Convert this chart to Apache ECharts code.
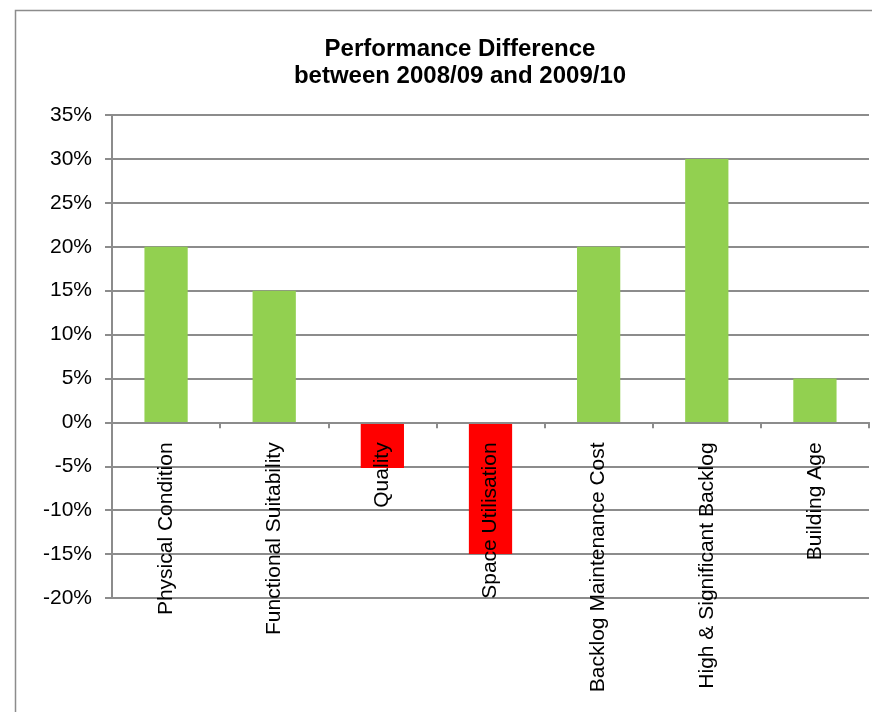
<!DOCTYPE html>
<html>
<head>
<meta charset="utf-8">
<title>Performance Difference</title>
<script src="https://cdn.jsdelivr.net/npm/echarts@6/dist/echarts.min.js"></script>
<style>
  html, body { margin: 0; padding: 0; background: #fff; }
  #main { width: 872px; height: 712px; }
</style>
</head>
<body>
<div id="main"></div>
<script>
// data (percent)
var categories = [
  "Physical Condition",
  "Functional Suitability",
  "Quality",
  "Space Utilisation",
  "Backlog Maintenance Cost",
  "High & Significant Backlog",
  "Building Age"
];
var values = [20, 15, -5.2, -15, 20, 30, 5];
var yTicks = { min: -20, max: 35, step: 5 };

(function () {
  var myChart = echarts.init(document.getElementById("main"));
  var font = "Liberation Sans, Arial, sans-serif";
  var gridGray = "#8c8c8c";
  var gridTop = 115, gridBottom = 114;
  var plotH = 712 - gridTop - gridBottom;
  // category axis sits on the zero line: shift it up from the grid bottom
  var zeroOffset = -plotH * (0 - yTicks.min) / (yTicks.max - yTicks.min);

  var option = {
    animation: false,
    backgroundColor: "#fff",
    // outer chart border
    graphic: [
      {
        type: "rect",
        shape: { x: 15.5, y: 10.5, width: 900, height: 800 },
        style: { fill: "none", stroke: "#8c8c8c", lineWidth: 1.5 },
        z: -10
      }
    ],
    title: {
      text: "Performance Difference\nbetween 2008/09 and 2009/10",
      left: 455,
      top: 31,
      textAlign: "center",
      textStyle: {
        fontFamily: font,
        fontSize: 24,
        fontWeight: "bold",
        color: "#000",
        lineHeight: 27
      }
    },
    grid: { left: 112, right: 3, top: gridTop, bottom: gridBottom, outerBoundsMode: "none", containLabel: false },
    xAxis: {
      type: "category",
      data: categories,
      z: 5,
      offset: zeroOffset,
      axisLine: { onZero: false, lineStyle: { color: gridGray, width: 2 } },
      axisTick: { show: true, length: 6, lineStyle: { color: gridGray, width: 2 } },
      axisLabel: {
        rotate: 90,
        interval: 0,
        margin: 20,
        fontFamily: font,
        fontSize: 21,
        color: "#000"
      }
    },
    yAxis: {
      type: "value",
      min: yTicks.min,
      max: yTicks.max,
      interval: yTicks.step,
      axisLine: { show: true, lineStyle: { color: gridGray, width: 2 } },
      axisTick: { show: true, length: 7, lineStyle: { color: gridGray, width: 2 } },
      splitLine: { lineStyle: { color: gridGray, width: 2 } },
      axisLabel: {
        margin: 20,
        fontFamily: font,
        fontSize: 21,
        color: "#000",
        formatter: function (v) { return v + "%"; }
      }
    },
    series: [
      {
        type: "bar",
        barWidth: "40%",
        data: values.map(function (v) {
          return { value: v, itemStyle: { color: v < 0 ? "#ff0000" : "#92d050" } };
        })
      }
    ]
  };

  myChart.setOption(option);
  window.addEventListener("resize", function () {
    myChart.resize();
  });
})();
</script>
</body>
</html>
